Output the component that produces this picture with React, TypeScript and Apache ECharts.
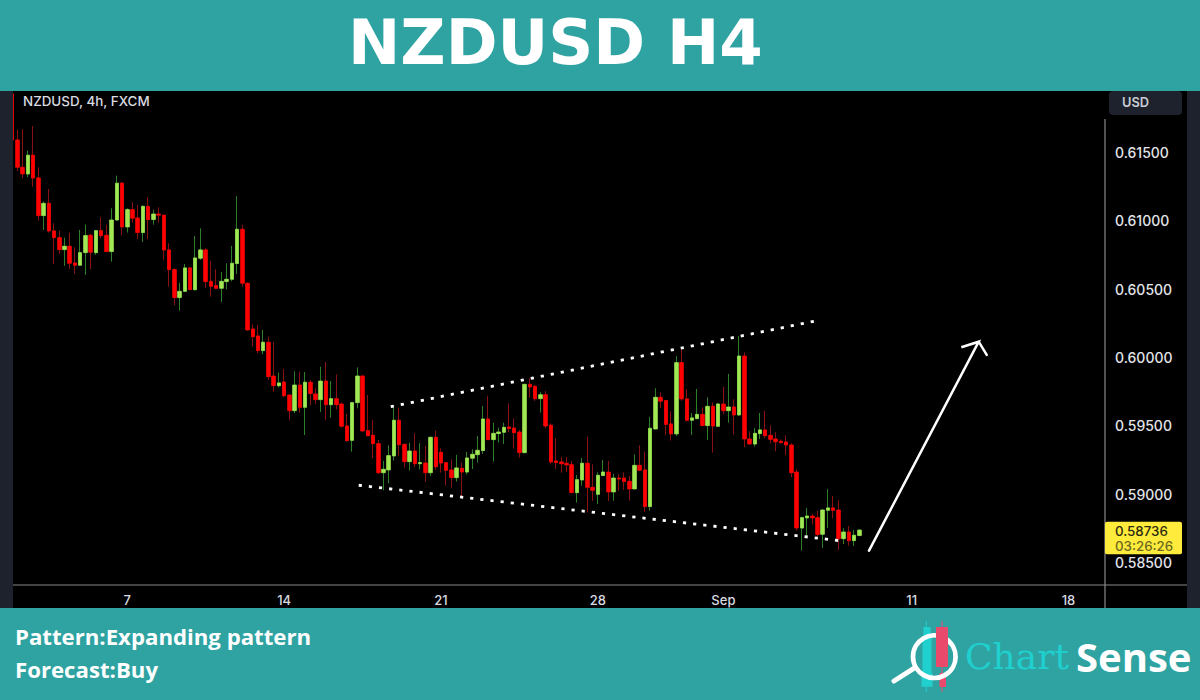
import React, { useEffect, useRef } from "react";
import * as echarts from "echarts";

// Prices are stored in 1e-5 units (58736 = 0.58736)
const opens = [61929,61592,61392,61343,61480,61314,61038,61128,60926,60877,60789,60814,60691,60675,60767,60894,60767,60928,60894,60775,61006,61275,60955,61082,61021,60914,61106,61009,61050,61041,60787,60643,60438,60484,60655,60496,60726,60787,60557,60526,60506,60555,60572,60687,60938,60543,60208,60157,60050,60111,59864,59793,59820,59725,59610,59798,59635,59818,59732,59691,59827,59654,59698,59659,59498,59393,59669,59864,59464,59430,59369,59156,59176,59279,59540,59364,59237,59315,59222,59227,59156,59415,59305,59230,59176,59120,59188,59161,59262,59288,59318,59549,59398,59442,59452,59491,59483,59454,59303,59803,59788,59698,59727,59503,59242,59235,59225,59215,59010,59103,59225,59049,58998,59135,59161,59015,59117,59117,59093,59037,59210,59176,58908,59476,59708,59684,59513,59440,59962,59696,59540,59552,59583,59501,59642,59496,59659,59610,59637,59579,60010,59403,59366,59442,59469,59430,59403,59386,59381,59359,59161,58751,58825,58839,58827,58705,58881,58898,58883,58673,58722,58659,58696];
const closes = [61592,61392,61343,61480,61314,61038,61128,60926,60877,60789,60814,60689,60675,60767,60892,60770,60928,60892,60775,61006,61275,60955,61082,61019,60914,61106,61009,61050,61041,60787,60643,60438,60484,60655,60496,60728,60787,60555,60521,60506,60557,60572,60689,60938,60543,60201,60152,60050,60111,59859,59793,59813,59720,59610,59798,59635,59818,59735,59691,59827,59654,59698,59654,59496,59391,59669,59864,59461,59427,59369,59156,59181,59281,59540,59361,59237,59315,59222,59230,59156,59415,59200,59227,59174,59120,59191,59161,59264,59291,59320,59549,59398,59444,59454,59488,59479,59449,59303,59803,59784,59698,59727,59498,59235,59230,59222,59213,59010,59105,59225,59049,59027,59137,59161,59015,59117,59110,59091,59037,59210,59174,58908,59481,59708,59679,59510,59440,59962,59696,59540,59557,59583,59501,59642,59498,59659,59610,59637,59579,60010,59403,59366,59444,59469,59427,59400,59383,59376,59359,59156,58751,58827,58839,58825,58703,58883,58898,58881,58673,58722,58659,58698,58736];
const lows = [61592,61365,61311,61319,61250,61002,60933,60914,60684,60758,60670,60648,60611,60670,60604,60645,60750,60872,60770,60701,61002,60894,60914,60987,60865,60845,60865,60972,60987,60714,60518,60382,60343,60479,60494,60489,60714,60509,60445,60501,60406,60499,60557,60611,60518,60196,60079,60030,60023,59835,59749,59781,59708,59542,59591,59596,59432,59649,59659,59601,59542,59559,59620,59486,59383,59310,59627,59457,59422,59261,59147,59027,59078,59244,59279,59193,59171,59198,59181,59088,59132,59176,59156,59061,59047,59091,58969,59142,59183,59230,59293,59396,59237,59376,59366,59452,59332,59266,59298,59705,59681,59596,59481,59217,59183,59156,59161,59008,58937,59061,58864,58949,58927,59132,58949,58951,59022,59030,58951,59034,59169,58869,58878,59474,59630,59430,59391,59425,59681,59532,59432,59547,59496,59396,59303,59491,59586,59522,59435,59571,59342,59364,59347,59403,59410,59371,59313,59371,59286,59122,58732,58586,58688,58776,58693,58605,58751,58822,58590,58634,58622,58620,58690];
const highs = [61929,61665,61670,61514,61694,61392,61141,61233,60982,60928,60877,60914,60806,60933,60972,60904,60933,61026,60970,61092,61331,61287,61092,61136,61116,61111,61172,61080,61099,61043,60836,60653,60548,60684,60655,60889,60945,60799,60706,60645,60626,60689,60816,61182,60972,60548,60242,60237,60201,60152,60115,59889,59915,59732,59898,59896,59893,59835,59774,59932,59967,59827,59876,59671,59586,59674,59927,59871,59725,59542,59396,59242,59357,59632,59632,59366,59376,59444,59371,59352,59420,59464,59335,59232,59254,59286,59230,59308,59327,59425,59645,59718,59522,59486,59522,59664,59554,59469,59803,59847,59798,59747,59754,59518,59410,59271,59271,59242,59139,59264,59420,59217,59159,59249,59242,59147,59147,59159,59132,59291,59357,59310,59564,59774,59745,59688,59605,60010,60059,59766,59593,59769,59635,59708,59671,59666,59784,59879,59693,60157,60037,59461,59483,59593,59608,59503,59452,59400,59430,59371,59183,58834,58898,58854,58878,58888,59037,58986,58956,58749,58766,58737,58737];

const SLOT_COUNT = 209;
const axisTicks: [number, string][] = [[22,"7"],[52,"14"],[82,"21"],[112,"28"],[136,"Sep"],[172,"11"],[202,"18"]];
const priceLabels = [0.585,0.59,0.595,0.6,0.605,0.61,0.615];

// Hand-drawn annotations, in [bar index, price]
const upperTrend = [[72.39,0.59639],[153.8,0.60268]];
const lowerTrend = [[66.26,0.59064],[158.3,0.58658]];
const arrowPath = [[163.85,0.58585],[184.83,0.60115],[181.5,0.60074],[184.83,0.60115],[186.36,0.60018]];

const TEAL = "#2ea3a2";
const PANEL = "#1e222d";
const GRID_LINE = "#8a8a8a";
const FONT = "Inter, sans-serif";
const BOLD = "'Open Sans', sans-serif";

export default function App() {
  const ref = useRef<HTMLDivElement>(null);
  useEffect(() => {
    const chart = echarts.init(ref.current!, undefined, { renderer: "svg" });
    const cats = Array.from({ length: SLOT_COUNT }, (_, i) => {
      const t = axisTicks.find((a) => a[0] === i);
      return t ? t[1] : "";
    });
    const p = (v: number) => v / 100000;
    const wicks = opens.map((o, i) => [p(o), p(closes[i]), p(lows[i]), p(highs[i])]);
    const bodies = opens.map((o, i) => [p(o), p(closes[i]), p(Math.min(o, closes[i])), p(Math.max(o, closes[i]))]);
    const dots = { type: [3.2, 7] as number[], width: 2.8, color: "#ffffff" };
    const rect = (x: number, y: number, width: number, height: number, fill: string, z = 10, r = 0) => ({
      type: "rect", z, shape: { x, y, width, height, r }, style: { fill }, silent: true,
    });
    const text = (x: number, y: number, t: string, fill: string, fontSize: number, fontWeight: any, fontFamily = FONT, z = 12) => ({
      type: "text", z, x, y, silent: true,
      style: { text: t, fill, fontSize, fontWeight, fontFamily, textVerticalAlign: "middle", textAlign: "left" },
    });
    chart.setOption({
      animation: false,
      backgroundColor: "#000000",
      title: {
        text: "NZDUSD H4", left: 343, top: 6, z: 20,
        textStyle: { color: "#ffffff", fontSize: 62.5, fontWeight: "bold", fontFamily: "'DejaVu Sans', sans-serif" },
      },
      grid: { left: 9.6, top: 84.2, width: 1092.9, height: 546.4 },
      xAxis: [
        {
          type: "category", data: cats, position: "bottom", offset: -45.6, boundaryGap: true,
          axisLine: { show: false }, axisTick: { show: false }, splitLine: { show: false },
          axisLabel: { interval: 0, color: "#d9dbe1", fontSize: 13, fontWeight: 500, fontFamily: FONT, margin: 8, hideOverlap: false },
        },
        { type: "value", show: false, min: -0.5, max: SLOT_COUNT - 0.5, splitLine: { show: false } },
      ],
      yAxis: {
        type: "value", min: 0.58, max: 0.62, interval: 0.005, position: "right", scale: true,
        axisLine: { show: false }, axisTick: { show: false }, splitLine: { show: false },
        axisLabel: {
          color: "#e3e5ea", fontSize: 14, fontWeight: 500, fontFamily: FONT, margin: 12.5,
          formatter: (v: number) => (priceLabels.some((l) => Math.abs(l - v) < 1e-6) ? v.toFixed(5) : ""),
        },
      },
      series: [
        {
          type: "candlestick", name: "wick", data: wicks, barWidth: 3, z: 2,
          itemStyle: { color: "#2e7f2a", color0: "#8a1212", borderColor: "#2e7f2a", borderColor0: "#8a1212", borderWidth: 1 },
        },
        {
          type: "candlestick", name: "body", data: bodies, barWidth: 4, z: 3,
          itemStyle: { color: "#a2e854", color0: "#ff0000", borderColor: "#a2e854", borderColor0: "#ff0000", borderWidth: 0.6 },
        },
        { type: "line", xAxisIndex: 1, data: upperTrend, symbol: "none", z: 4, lineStyle: dots, silent: true },
        { type: "line", xAxisIndex: 1, data: lowerTrend, symbol: "none", z: 4, lineStyle: dots, silent: true },
        {
          type: "line", xAxisIndex: 1, data: arrowPath, symbol: "none", z: 4, silent: true,
          lineStyle: { color: "#ffffff", width: 2.5, cap: "round", join: "miter" },
        },
      ],
      graphic: [
        rect(0, 0, 1200, 91, TEAL, 9),
        rect(0, 608, 1200, 92, TEAL, 9),
        rect(0, 91, 13, 517, PANEL),
        rect(1187, 91, 13, 517, PANEL),
        { type: "line", z: 10, silent: true, shape: { x1: 13, y1: 585, x2: 1187, y2: 585 }, style: { stroke: GRID_LINE, lineWidth: 1 } },
        { type: "line", z: 10, silent: true, shape: { x1: 1105, y1: 119, x2: 1105, y2: 608 }, style: { stroke: GRID_LINE, lineWidth: 1.2 } },
        rect(1109, 91, 73, 24, PANEL, 10, 4),
        text(1122, 102.5, "USD", "#c9ccd4", 12.8, 600),
        text(23, 101, "NZDUSD, 4h, FXCM", "#d9dbe1", 13.4, 500),
        rect(1105, 521.7, 77, 32.5, "#ffeb3b", 11, 2),
        text(1115, 530.5, "0.58736", "#2a2a10", 13.3, 500),
        text(1115, 545.5, "03:26:26", "#6b6820", 13.3, 500),
        text(15, 636, "Pattern:Expanding pattern", "#ffffff", 22.2, "bold", BOLD),
        text(15, 669, "Forecast:Buy", "#ffffff", 22.2, "bold", BOLD),
        // ChartSense logo
        { type: "line", z: 11, silent: true, shape: { x1: 926.3, y1: 621, x2: 926.3, y2: 692 }, style: { stroke: "#20d0cf", lineWidth: 1 } },
        rect(923.5, 627, 7, 12, "#20d0cf", 11),
        rect(922.5, 638, 9, 35, "#20d0cf", 11),
        rect(921.5, 673, 11, 13.7, "#20d0cf", 11),
        { type: "line", z: 11, silent: true, shape: { x1: 942, y1: 621, x2: 942, y2: 692 }, style: { stroke: "#e9496a", lineWidth: 1 } },
        rect(939.5, 673, 6.5, 14, "#e9496a", 11),
        { type: "circle", z: 12, silent: true, shape: { cx: 934.3, cy: 656.7, r: 21.3 }, style: { fill: "none", stroke: "#ffffff", lineWidth: 4.7 } },
        { type: "line", z: 12, silent: true, shape: { x1: 915, y1: 667.7, x2: 894, y2: 681 }, style: { stroke: "#ffffff", lineWidth: 5, lineCap: "round" } },
        rect(936, 627, 12, 40, "#e9496a", 13),
        text(965, 656, "Chart", "#20d0cf", 36, "normal", "'DejaVu Serif', serif"),
        text(1076, 656, "Sense", "#ffffff", 40, "bold", BOLD),
      ],
    });
    return () => chart.dispose();
  }, []);
  return <div ref={ref} style={{ position: "absolute", left: 0, top: 0, width: 1200, height: 700 }} />;
}
